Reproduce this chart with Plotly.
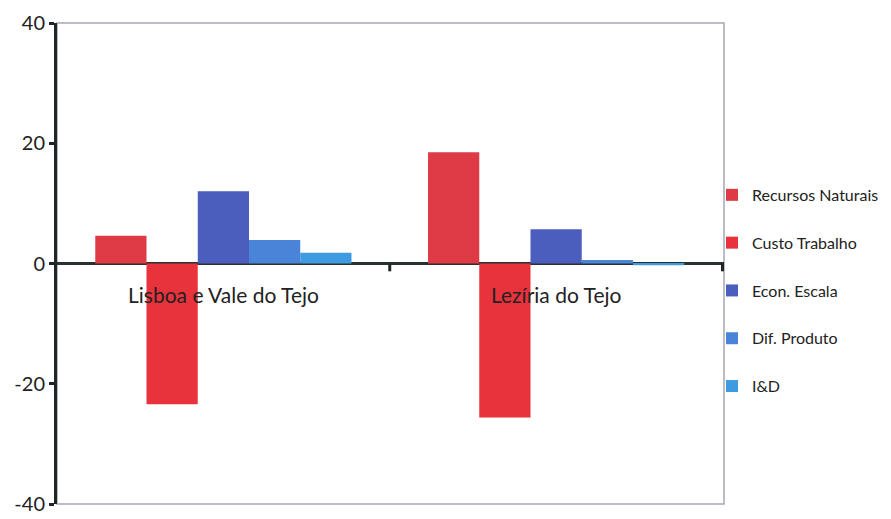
import plotly.graph_objects as go

# Data
regions = ["Lisboa e Vale do Tejo", "Lezíria do Tejo"]
recursos_naturais = [4.6, 18.5]
custo_trabalho = [-23.4, -25.6]
econ_escala = [12.0, 5.7]
dif_produto = [3.9, 0.6]
i_d = [1.8, -0.3]
y_ticks = [-40, -20, 0, 20, 40]
y_labels = ["-40", "-20", "0", "20", "40"]

series = [
    ("Recursos Naturais", recursos_naturais, "#DE3B46"),
    ("Custo Trabalho", custo_trabalho, "#E8333D"),
    ("Econ. Escala", econ_escala, "#4B5EBE"),
    ("Dif. Produto", dif_produto, "#4A84D8"),
    ("I&D", i_d, "#3E9BE0"),
]

fig = go.Figure()
for name, vals, col in series:
    fig.add_trace(go.Bar(x=regions, y=vals, name=name, marker_color=col,
                         marker_line_width=0, legendgroup=name))

font_family = "Lato, 'Open Sans', sans-serif"

# page body has an 8px margin, so the figure is shifted by 8px
fig.update_layout(
    width=891, height=519,
    margin=dict(l=49, r=175, t=15, b=23, autoexpand=False),
    plot_bgcolor="white", paper_bgcolor="white",
    barmode="group", bargap=0.23, bargroupgap=0,
    font=dict(family=font_family, size=20, color="#222"),
    showlegend=True,
    legend=dict(x=0.982, y=0.444, xanchor="left", yanchor="middle",
                font=dict(size=16, color="#222"), tracegroupgap=24,
                bgcolor="rgba(0,0,0,0)"),
    xaxis=dict(showticklabels=False, showgrid=False, showline=False, ticks=""),
    yaxis=dict(range=[-40, 40], tickvals=y_ticks, ticktext=y_labels,
               showgrid=False, ticklabeloverflow="allow",
               showline=True, linecolor="#1f2626", linewidth=3,
               ticks="outside", ticklen=5, tickwidth=3, tickcolor="#1f2626",
               zeroline=True, zerolinecolor="#2a3030", zerolinewidth=3,
               tickfont=dict(size=20)),
    shapes=[
        dict(type="rect", xref="paper", yref="paper", x0=0, x1=1, y0=0, y1=1,
             line=dict(color="#a7a7b4", width=1.5), layer="below"),
        dict(type="line", xref="x", yref="y", x0=0.5, x1=0.5, y0=0, y1=-1.3,
             line=dict(color="#1f2626", width=3)),
        dict(type="line", xref="x", yref="y", x0=1.5, x1=1.5, y0=0, y1=-1.3,
             line=dict(color="#1f2626", width=3)),
    ],
)

# category labels sit just below the zero line
for r in regions:
    fig.add_annotation(x=r, y=0, text=r, showarrow=False, yanchor="top",
                       yshift=-16, font=dict(size=21, color="#222"))

fig.write_html("out.html")
